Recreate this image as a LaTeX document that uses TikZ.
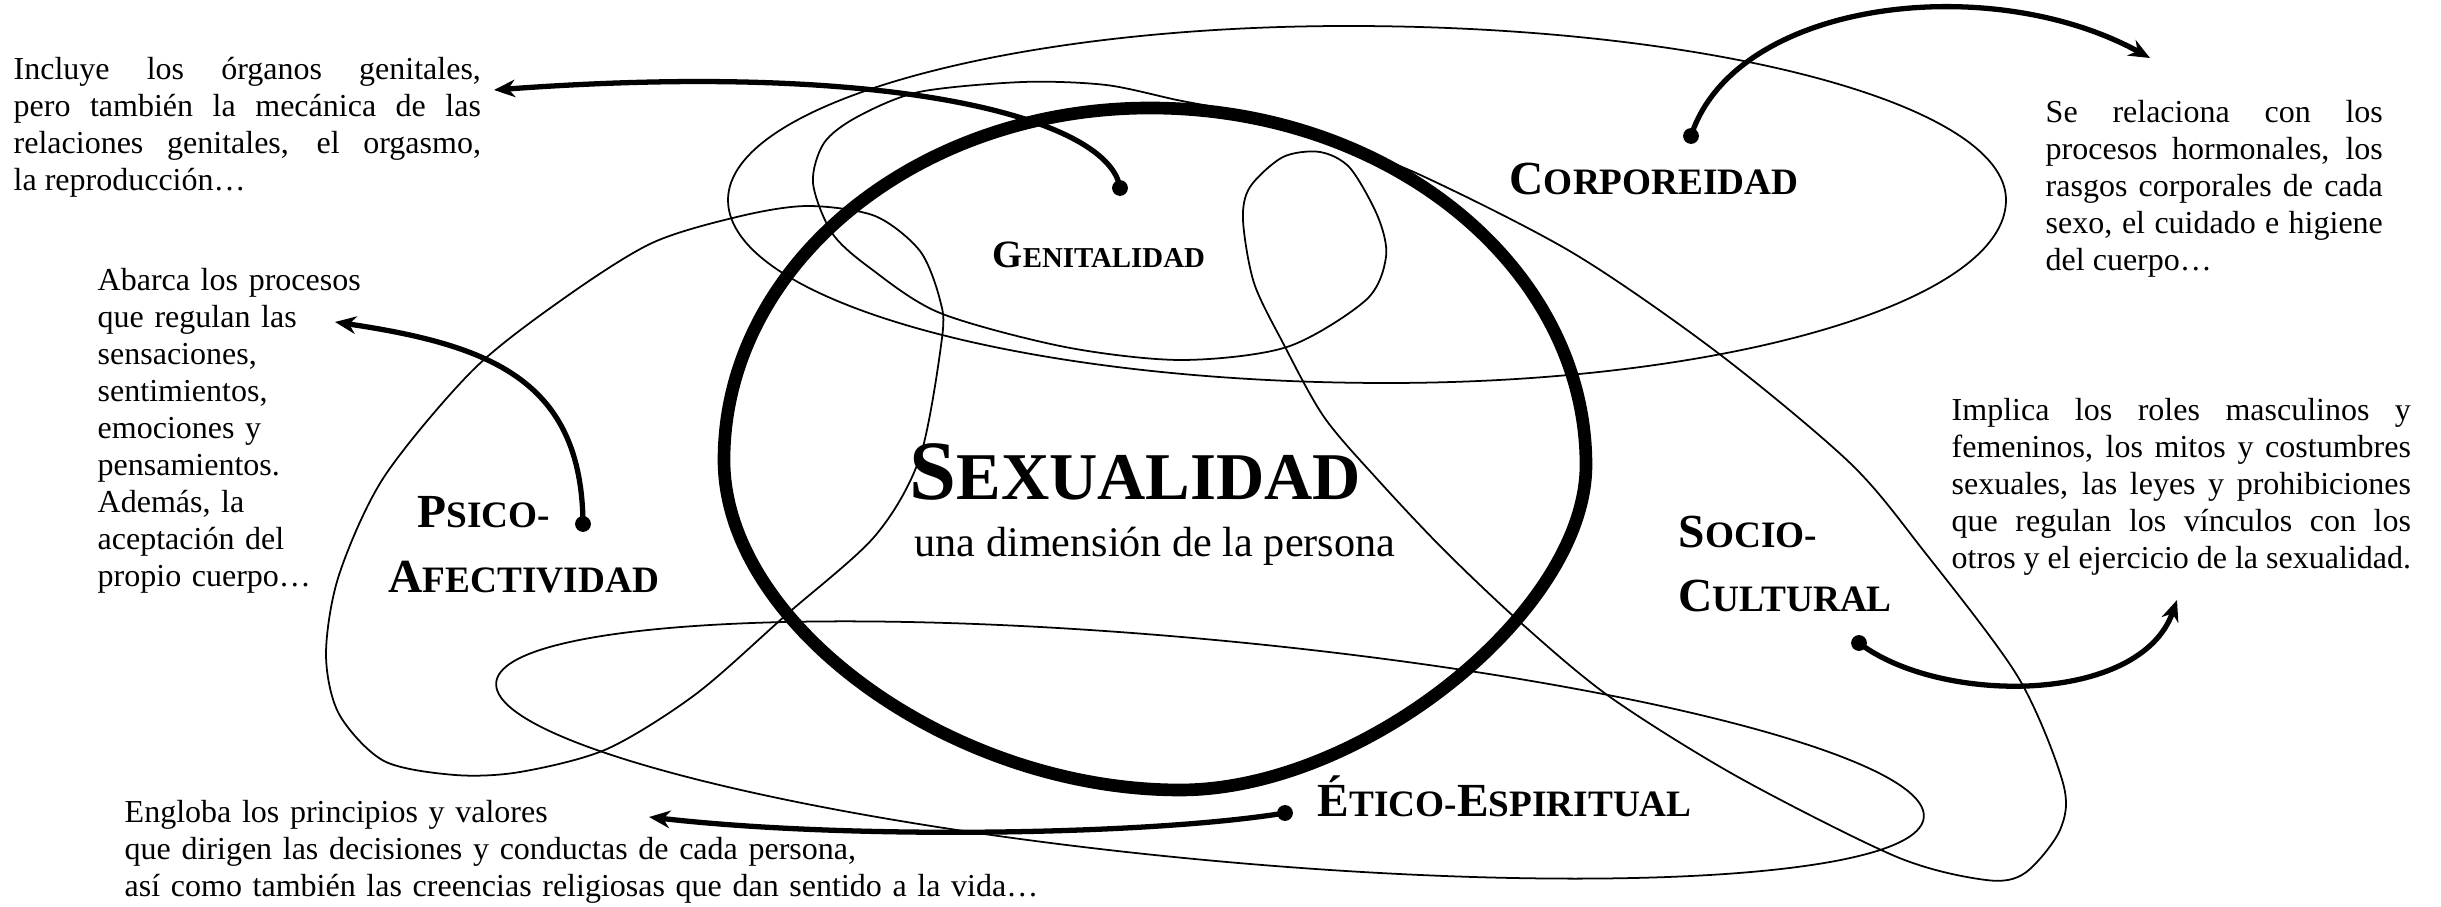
\documentclass[tikz,border=0pt]{standalone}
\usepackage{fontspec}
\setmainfont{Liberation Serif}
\usetikzlibrary{arrows.meta}
\newcommand\bodyfont{\fontsize{9.1pt}{10.5pt}\selectfont}
\newcommand\capbig{\fontsize{13.5pt}{16pt}\selectfont}
\newcommand\capsmall{\fontsize{10.6pt}{16pt}\selectfont}
\begin{document}
\begin{tikzpicture}[x=0.01cm,y=-0.01cm,
  thinshape/.style={line width=0.5pt},
  bigring/.style={line width=3.6pt},
  dimlabel/.style={font=\bfseries, inner sep=0pt, anchor=base west},
  desc/.style={font=\bodyfont, inner sep=0pt, anchor=base west},
  dotnode/.style={circle, fill=black, inner sep=0pt, minimum size=4.5pt},
  pointer/.style={line width=1.5pt, -{Stealth[length=6pt,width=5pt]}}]
\useasboundingbox (0,0) rectangle (2441,907);

% Corporeidad ellipse
\draw[thinshape] (728,200) .. controls (728,104) and (1006,26) .. (1348,26)
  .. controls (1711,26) and (2006,104) .. (2006,200)
  .. controls (2006,301) and (1729,383) .. (1387,383)
  .. controls (1023,383) and (728,301) .. cycle;

% Psico-afectividad loop
\draw[thinshape] plot[smooth cycle] coordinates {
 (808,206) (875,216) (920,251) (940,300) (942,338) (920,457) (875,536) (786,615)
 (696,694) (607,749) (520,772) (455,775) (384,761) (339,714) (326,654) (339,575)
 (384,477) (473,370) (563,299) (652,243) (741,216)};

% Etico-espiritual loop
\draw[thinshape, rotate around={-5.4:(1210,750)}] (1210,750) ellipse [x radius=717, y radius=110];

% Genitalidad / Socio-cultural loop
\draw[thinshape] plot[smooth cycle] coordinates {
 (813,183) (824,143) (857,117) (919,92) (1023,82) (1106,85) (1177,100) (1241,113)
 (1324,140) (1416,173) (1573,253) (1718,353) (1850,463) (1923,550) (2018,677)
 (2063,783) (2060,830) (2025,873) (1986,880) (1897,857) (1738,777) (1610,697)
 (1521,623) (1444,550) (1378,480) (1324,417) (1283,343) (1254,283) (1243,220)
 (1250,187) (1283,157) (1320,152) (1350,168) (1378,217) (1386,257) (1366,300)
 (1287,347) (1181,360) (1065,347) (940,313) (870,268) (832,233)};

% Big ring
\draw[bigring] (724,460) .. controls (724,266) and (915,108) .. (1150,108)
  .. controls (1391,108) and (1586,268) .. (1586,465)
  .. controls (1586,611) and (1363,790) .. (1180,790)
  .. controls (952,790) and (724,625) .. cycle;

% Dots and pointers
\node[dotnode] (gdot) at (1120,188) {};
\coordinate (gtip) at (494,90);
\draw[pointer] (gdot.center) .. controls (1110,120) and (900,60) .. (gtip);

\node[dotnode] (pdot) at (583,524) {};
\coordinate (ptip) at (335,322);
\draw[pointer] (pdot.center) .. controls (582,380) and (490,345) .. (ptip);

\node[dotnode] (cdot) at (1691,136) {};
\coordinate (ctip) at (2150,58);
\draw[pointer] (cdot.center) .. controls (1735,0) and (1990,-30) .. (ctip);

\node[dotnode] (sdot) at (1859,643) {};
\coordinate (stip) at (2177,600);
\draw[pointer] (sdot.center) .. controls (1940,705) and (2140,705) .. (stip);

\node[dotnode] (edot) at (1285,813) {};
\coordinate (etip) at (649,817);
\draw[pointer] (edot.center) .. controls (1150,835) and (850,840) .. (etip);

% Central title
\node[dimlabel] (sex) at (909,500) {{\fontsize{24pt}{28pt}\selectfont S}{\fontsize{19pt}{28pt}\selectfont EXUALIDAD}};
\node[inner sep=0pt, anchor=base west, font=\fontsize{12pt}{14pt}\selectfont] (sub) at (914,557) {una dimensión de la persona};

% Dimension labels
\node[dimlabel] (gen) at (992,268) {{\fontsize{11pt}{13pt}\selectfont G}{\fontsize{8.2pt}{13pt}\selectfont ENITALIDAD}};
\node[dimlabel] (cor) at (1509,195) {{\capbig C}{\capsmall ORPOREIDAD}};
\node[dimlabel] (psi1) at (417,528) {{\capbig P}{\capsmall SICO-}};
\node[dimlabel] (psi2) at (388,593) {{\capbig A}{\capsmall FECTIVIDAD}};
\node[dimlabel] (soc1) at (1678,548) {{\capbig S}{\capsmall OCIO-}};
\node[dimlabel] (soc2) at (1678,612) {{\capbig C}{\capsmall ULTURAL}};
\node[dimlabel] (eti) at (1317,817) {{\capbig É}{\capsmall TICO-}{\capbig E}{\capsmall SPIRITUAL}};

% Descriptions
\node[desc, text width=4.67cm, align=justify] (dgen) at (13,80) {Incluye los órganos genitales,\linebreak pero también la mecánica de las\linebreak relaciones genitales, el orgasmo,\linebreak la reproducción…};
\node[desc, text width=3cm, align=left] (dpsi) at (97,291) {Abarca los procesos\\que regulan las\\sensaciones,\\sentimientos,\\emociones y\\pensamientos.\\Además, la\\aceptación del\\propio cuerpo…};
\node[desc, text width=3.37cm, align=justify] (dcor) at (2045,123) {Se relaciona con los\linebreak procesos hormonales, los\linebreak rasgos corporales de cada\linebreak sexo, el cuidado e higiene\linebreak del cuerpo…};
\node[desc, text width=4.59cm, align=justify] (dsoc) at (1951,421) {Implica los roles masculinos y\linebreak femeninos, los mitos y costumbres\linebreak sexuales, las leyes y prohibiciones\linebreak que regulan los vínculos con los\linebreak otros y el ejercicio de la sexualidad.};
\node[desc, text width=10cm, align=left] (deti) at (124,823) {Engloba los principios y valores\\que dirigen las decisiones y conductas de cada persona,\\así como también las creencias religiosas que dan sentido a la vida…};
\end{tikzpicture}
\end{document}
